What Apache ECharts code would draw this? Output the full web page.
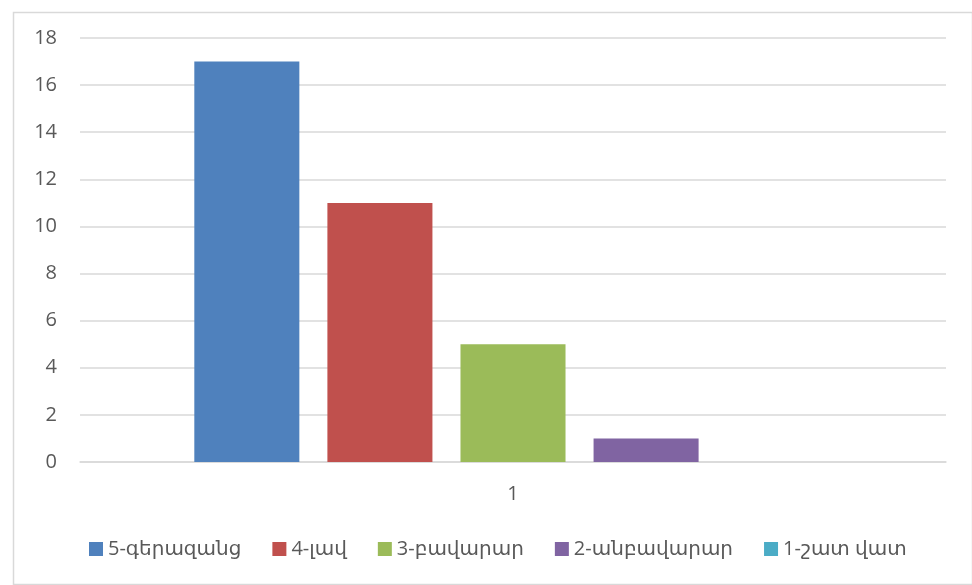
<!DOCTYPE html>
<html>
<head>
<meta charset="utf-8">
<script src="https://cdn.jsdelivr.net/npm/echarts@6/dist/echarts.min.js"></script>
<style>
html,body{margin:0;padding:0;background:#fff;}
#c{width:972px;height:585px;}
</style>
</head>
<body>
<div id="c"></div>
<script>
const categories = ['1'];
const seriesNames = ['5-գերազանց', '4-լավ', '3-բավարար', '2-անբավարար', '1-շատ վատ'];
const seriesValues = [[17], [11], [5], [1], [0]];
const colors = ['#4F81BD', '#C0504D', '#9BBB59', '#8064A2', '#4BACC6'];
const yTicks = { min: 0, max: 18, interval: 2 };

const font = '"Open Sans", "DejaVu Sans", sans-serif';
const chart = echarts.init(document.getElementById('c'), null, { renderer: 'canvas' });
chart.setOption({
  animation: false,
  backgroundColor: '#fff',
  textStyle: { fontFamily: font },
  graphic: [{
    type: 'rect', left: 11, top: 10, z: -1,
    shape: { width: 959, height: 572 },
    style: { fill: 'none', stroke: '#d9d9d9', lineWidth: 1.5 }
  }],
  grid: { left: 80, right: 26, top: 38, bottom: 123 },
  legend: {
    left: 84, top: 534,
    itemWidth: 14, itemHeight: 14, itemGap: 31,
    icon: 'rect',
    textStyle: { fontSize: 20, color: '#595959', fontFamily: font },
    data: seriesNames
  },
  xAxis: {
    type: 'category', data: categories,
    axisLine: { lineStyle: { color: '#d9d9d9', width: 1.5 } },
    axisTick: { show: false },
    axisLabel: { color: '#595959', fontSize: 20, margin: 22, fontFamily: font }
  },
  yAxis: {
    type: 'value', min: yTicks.min, max: yTicks.max, interval: yTicks.interval,
    axisLine: { show: false }, axisTick: { show: false },
    splitLine: { lineStyle: { color: '#d9d9d9', width: 1.5 } },
    axisLabel: { color: '#595959', fontSize: 20, margin: 23, fontFamily: font }
  },
  series: seriesNames.map((n, i) => ({
    name: n, type: 'bar', data: seriesValues[i],
    itemStyle: { color: colors[i] },
    barGap: '26.7%', barCategoryGap: '26.4%'
  }))
});
</script>
</body>
</html>
